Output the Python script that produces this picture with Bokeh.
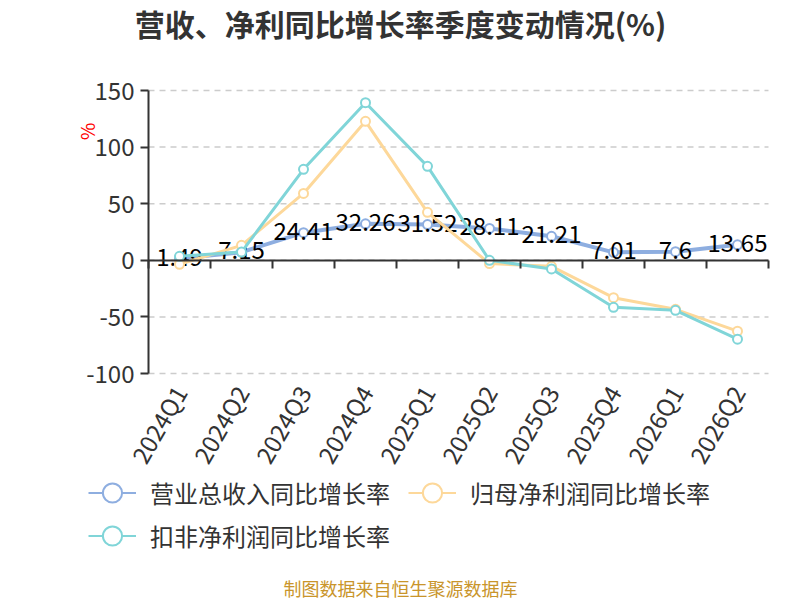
import math
from bokeh.plotting import figure
from bokeh.models import (ColumnDataSource, FixedTicker, LinearAxis, Range1d,
                          Label, Legend, LegendItem)
from bokeh.core.properties import value
from bokeh.embed import file_html
from bokeh.resources import INLINE

# ---------------- data ----------------
quarters = ["2024Q1", "2024Q2", "2024Q3", "2024Q4", "2025Q1",
            "2025Q2", "2025Q3", "2025Q4", "2026Q1", "2026Q2"]
revenue_yoy = [1.49, 7.15, 24.41, 32.26, 31.52, 28.11, 21.21, 7.01, 7.6, 13.65]
parent_np_yoy = [-3.5, 13.2, 59.1, 122.8, 42.4, -2.9, -5.3, -33.0, -43.3, -62.6]
deducted_np_yoy = [3.5, 7.3, 80.4, 139.2, 83.0, 0.0, -7.6, -41.5, -44.2, -69.7]
series_names = ["营业总收入同比增长率", "归母净利润同比增长率", "扣非净利润同比增长率"]
y_ticks = [-100, -50, 0, 50, 100, 150]
title_text = "营收、净利同比增长率季度变动情况(%)"
unit_text = "%"
source_text = "制图数据来自恒生聚源数据库"

FONT = "Noto Sans CJK SC"
colors = ["#8eaee0", "#fdd89a", "#80d5d8"]
widths = [4, 3, 3]

W, H = 800, 600
# plot area in page pixels
PL, PR, PT, PB = 148, 768, 90, 373

n = len(quarters)
xs = [i + 0.5 for i in range(n)]
ymin, ymax = y_ticks[0], y_ticks[-1]

# extend data ranges so that the frame covers the whole canvas
xpx = (PR - PL) / n
ypx = (PB - PT) / (ymax - ymin)
x_range = Range1d(-PL / xpx, n + (W - PR) / xpx)
y_range = Range1d(ymin - (H - PB) / ypx, ymax + PT / ypx)

p = figure(width=W, height=H, output_backend="svg", toolbar_location=None,
           x_range=x_range, y_range=y_range,
           x_axis_location=None, y_axis_location=None, min_border=0)
p.outline_line_color = None
p.grid.visible = False

# horizontal dashed grid lines over the plot area
p.segment(x0=[0] * len(y_ticks), x1=[n] * len(y_ticks), y0=y_ticks, y1=y_ticks,
          line_color="#cccccc", line_dash="6 5", line_width=1.5)

# y axis
yax = LinearAxis(fixed_location=0, ticker=FixedTicker(ticks=y_ticks),
                 bounds=(ymin, ymax))
yax.major_label_overrides = {t: str(t) for t in y_ticks}
yax.axis_line_color = "#333333"
yax.axis_line_width = 2
yax.major_tick_line_color = "#333333"
yax.major_tick_line_width = 2
yax.major_tick_out = 8
yax.major_tick_in = 0
yax.minor_tick_line_color = None
yax.major_label_text_font = FONT
yax.major_label_text_font_size = "24px"
yax.major_label_text_color = "#333333"
yax.major_label_standoff = 6
p.add_layout(yax, "left")

# quarter labels at bottom of the plot area
xax = LinearAxis(fixed_location=ymin, ticker=FixedTicker(ticks=xs))
xax.major_label_overrides = {x: q for x, q in zip(xs, quarters)}
xax.axis_line_color = None
xax.major_tick_line_color = None
xax.minor_tick_line_color = None
xax.major_label_orientation = math.radians(60)
xax.major_label_text_font = FONT
xax.major_label_text_font_size = "24px"
xax.major_label_text_color = "#333333"
xax.major_label_standoff = 8
p.add_layout(xax, "below")

items = []
for name, vals, c, w in zip(series_names,
                            [revenue_yoy, parent_np_yoy, deducted_np_yoy],
                            colors, widths):
    src = ColumnDataSource(dict(x=xs, y=vals, lab=[f"{v:g}" for v in vals]))
    p.line("x", "y", source=src, line_color=c, line_width=w)
    rp = p.scatter("x", "y", source=src, size=9, fill_color="white",
                   line_color=c, line_width=2)
    if name == series_names[0]:
        p.text("x", "y", text="lab", source=src, text_align="center",
               text_baseline="middle", y_offset=-2, text_color="#000000",
               text_font=value(FONT), text_font_size="24px")
    # thin one-point line (invisible in the plot) used for the legend icon
    rl_leg = p.line(x=xs[:1], y=vals[:1], line_color=c, line_width=2)
    items.append(LegendItem(label=name, renderers=[rl_leg, rp]))

# x axis line at zero with boundary ticks (drawn on top)
zax = LinearAxis(fixed_location=0,
                 ticker=FixedTicker(ticks=[], minor_ticks=list(range(n + 1))),
                 bounds=(0, n))
zax.axis_line_color = "#333333"
zax.axis_line_width = 2
zax.major_tick_line_color = None
zax.minor_tick_line_color = "#333333"
zax.minor_tick_line_width = 2
zax.minor_tick_out = 8
zax.minor_tick_in = 0
p.add_layout(zax, "below")

legend_style = dict(orientation="horizontal", glyph_width=48, glyph_height=55,
                    spacing=0, label_standoff=14, label_width=258,
                    label_text_font=FONT, label_text_font_size="24px",
                    label_text_color="#333333", padding=0, margin=0,
                    border_line_color=None, background_fill_alpha=0)
row1_center, row2_center = 492, 535
p.add_layout(Legend(items=items[:2], location=(88, H - row1_center - 27.5),
                    **legend_style))
p.add_layout(Legend(items=items[2:], location=(88, H - row2_center - 27.5),
                    **legend_style))

p.add_layout(Label(x=W / 2, y=H - 22, x_units="screen", y_units="screen",
                   text=title_text, text_align="center", text_baseline="middle",
                   text_font=FONT, text_font_size="30px", text_font_style="bold",
                   text_color="#333333"))
p.add_layout(Label(x=86, y=H - 131, x_units="screen", y_units="screen",
                   text=unit_text, angle=90, angle_units="deg",
                   text_align="center", text_baseline="middle",
                   text_font=FONT, text_font_size="19px", text_color="#ff0000"))
p.add_layout(Label(x=W / 2, y=H - 587, x_units="screen", y_units="screen",
                   text=source_text, text_align="center", text_baseline="middle",
                   text_font=FONT, text_font_size="18px", text_color="#c9952b"))

open("out.html", "w").write(file_html(p, INLINE))
